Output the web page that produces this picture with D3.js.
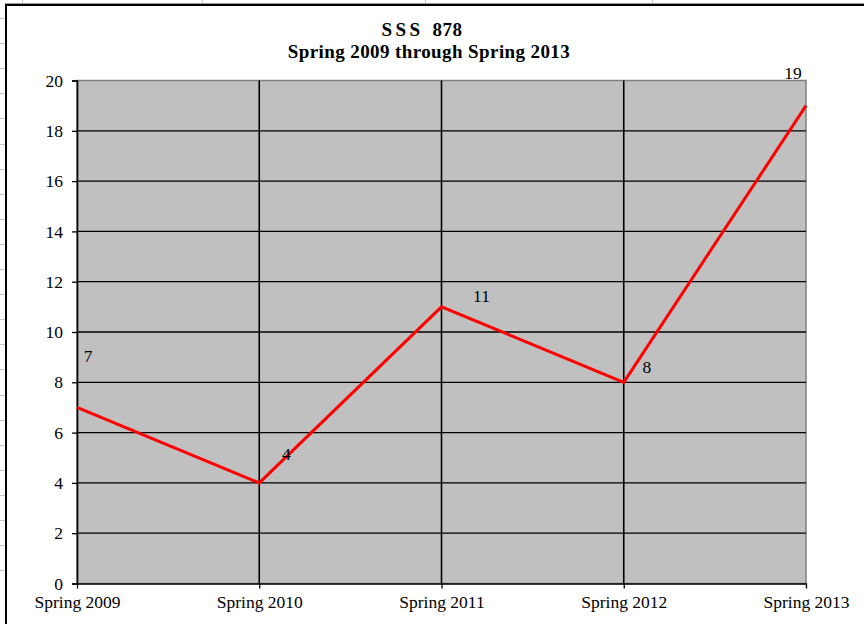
<!DOCTYPE html>
<html><head><meta charset="utf-8">
<script src="https://cdn.jsdelivr.net/npm/d3@7"></script>
<style>html,body{margin:0;padding:0;background:#fff;}svg{display:block;}</style>
</head><body>
<script>
const categories = ["Spring 2009","Spring 2010","Spring 2011","Spring 2012","Spring 2013"];
const values = [7, 4, 11, 8, 19];
const yTicks = [0,2,4,6,8,10,12,14,16,18,20];
const titleLines = ["SSS  878", "Spring 2009 through Spring 2013"];

const W = 864, H = 624;
const svg = d3.select("body").append("svg").attr("width", W).attr("height", H);
const font = "'Liberation Serif','Times New Roman',serif";
const fs = 17.5;

// spreadsheet background gridlines outside chart
const sheet = svg.append("g").attr("stroke", "#c8c8c8").attr("stroke-width", 1);
[22, 202, 425, 652].forEach(px => sheet.append("line").attr("x1", px + 0.5).attr("x2", px + 0.5).attr("y1", 0).attr("y2", 4));
d3.range(0, 23).forEach(k => {
  const py = Math.round(18 + 25.1 * k) + 0.5;
  sheet.append("line").attr("x1", 0).attr("x2", 5).attr("y1", py).attr("y2", py);
});

// chart border
svg.append("line").attr("x1", 5).attr("x2", W).attr("y1", 3.5).attr("y2", 3.5).attr("stroke", "#999").attr("stroke-width", 1);
svg.append("line").attr("x1", 5).attr("x2", W).attr("y1", 5).attr("y2", 5).attr("stroke", "#000").attr("stroke-width", 2);
svg.append("line").attr("x1", 6).attr("x2", 6).attr("y1", 4).attr("y2", H).attr("stroke", "#000").attr("stroke-width", 2);

const pLeft = 77, pRight = 806, pTop = 80.5, pBottom = 583.5;
const x = d3.scalePoint().domain(categories).range([pLeft, pRight]);
const y = d3.scaleLinear().domain([0, 20]).range([pBottom, pTop]);

// plot area
svg.append("rect").attr("x", pLeft).attr("y", pTop).attr("width", pRight - pLeft).attr("height", pBottom - pTop)
  .attr("fill", "#c0c0c0").attr("stroke", "#808080").attr("stroke-width", 1.5);

// horizontal gridlines
svg.append("g").selectAll("line").data(yTicks.filter(d => d > 0 && d < 20)).join("line")
  .attr("x1", pLeft).attr("x2", pRight).attr("y1", d => y(d)).attr("y2", d => y(d))
  .attr("stroke", "#000").attr("stroke-width", 1.3);
// vertical gridlines
svg.append("g").selectAll("line").data(categories.slice(1, -1)).join("line")
  .attr("x1", d => x(d)).attr("x2", d => x(d)).attr("y1", pTop).attr("y2", pBottom)
  .attr("stroke", "#000").attr("stroke-width", 1.6);

// y axis
const yAxis = svg.append("g").attr("transform", `translate(${pLeft},0)`)
  .call(d3.axisLeft(y).tickValues(yTicks).tickSize(5).tickPadding(9).tickFormat(d3.format("d")));
yAxis.select(".domain").attr("stroke", "#000").attr("stroke-width", 1.6);
yAxis.selectAll(".tick line").attr("stroke", "#000").attr("stroke-width", 1.3);
yAxis.selectAll("text").attr("font-family", font).attr("font-size", fs).attr("fill", "#000");

// x axis
const xAxis = svg.append("g").attr("transform", `translate(0,${pBottom})`)
  .call(d3.axisBottom(x).tickSize(5).tickPadding(7).tickSizeOuter(0));
xAxis.select(".domain").attr("stroke", "#000").attr("stroke-width", 1.6);
xAxis.selectAll(".tick line").attr("stroke", "#000").attr("stroke-width", 1.3);
xAxis.selectAll("text").attr("font-family", font).attr("font-size", fs).attr("fill", "#000");

// line
const data = categories.map((c, i) => ({c, v: values[i]}));
svg.append("path").datum(data)
  .attr("d", d3.line().x(d => x(d.c)).y(d => y(d.v)))
  .attr("fill", "none").attr("stroke", "#ff0000").attr("stroke-width", 3).attr("stroke-linejoin", "miter");

// data labels (Excel-like offsets)
const labelOffsets = [[11, -45], [27, -23], [40, -5], [23, -9], [-13, -27]];
svg.append("g").selectAll("text").data(data).join("text")
  .attr("x", (d, i) => x(d.c) + labelOffsets[i][0])
  .attr("y", (d, i) => y(d.v) + labelOffsets[i][1])
  .attr("text-anchor", "middle").attr("font-family", font).attr("font-size", fs).attr("fill", "#000")
  .text(d => d.v);

// title
const [tA, tB] = titleLines[0].split(/\s+/);
const t1 = svg.append("text").attr("x", 422).attr("y", 36).attr("text-anchor", "middle")
  .attr("font-family", font).attr("font-weight", "bold").attr("font-size", 19).attr("fill", "#000");
t1.append("tspan").attr("letter-spacing", 3.5).text(tA);
t1.append("tspan").attr("dx", 9).attr("letter-spacing", 0.5).text(tB);
svg.append("text").attr("x", 429).attr("y", 58).attr("text-anchor", "middle")
  .attr("font-family", font).attr("font-weight", "bold").attr("font-size", 19).attr("fill", "#000")
  .attr("letter-spacing", 0.4).text(titleLines[1]);
</script>
</body></html>
